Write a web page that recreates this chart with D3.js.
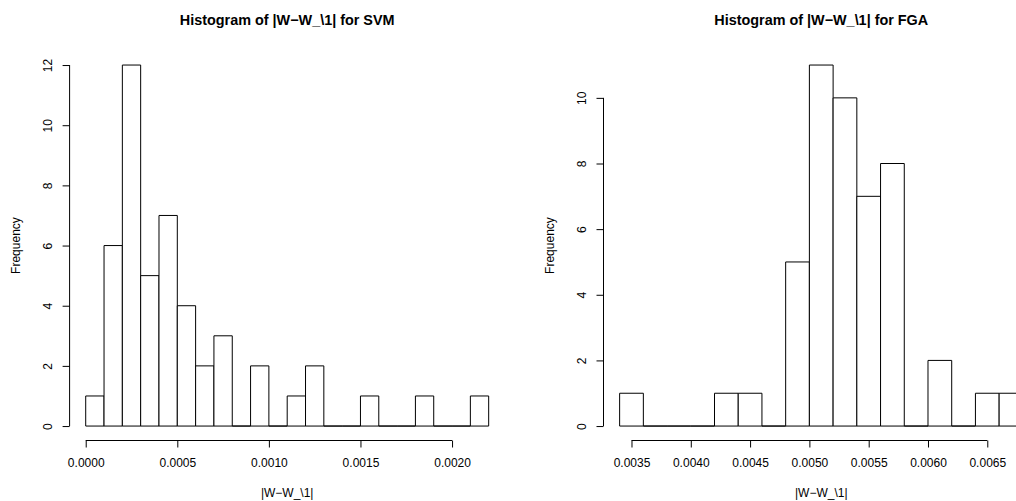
<!DOCTYPE html>
<html>
<head>
<meta charset="utf-8">
<script src="https://cdn.jsdelivr.net/npm/d3@7"></script>
<style>
  body { margin: 0; background: #fff; }
  svg { font-family: "Liberation Sans", Arial, Helvetica, sans-serif; }
</style>
</head>
<body>
<svg id="chart"></svg>
<script>
// SVM histogram: breaks every 0.0001 from 0 to 0.0022
const svmBreakStart = 0, svmBreakStep = 0.0001;
const svmCounts = [1, 6, 12, 5, 7, 4, 2, 3, 0, 2, 0, 1, 2, 0, 0, 1, 0, 0, 1, 0, 0, 1];
const svmXTicks = [0, 0.0005, 0.001, 0.0015, 0.002];
const svmYTicks = [0, 2, 4, 6, 8, 10, 12];

// FGA histogram: breaks every 0.0002 from 0.0034 to 0.0068
const fgaBreakStart = 0.0034, fgaBreakStep = 0.0002;
const fgaCounts = [1, 0, 0, 0, 1, 1, 0, 5, 11, 10, 7, 8, 0, 2, 0, 1, 1];
const fgaXTicks = [0.0035, 0.004, 0.0045, 0.005, 0.0055, 0.006, 0.0065];
const fgaYTicks = [0, 2, 4, 6, 8, 10];

const width = 1016, height = 501;
const svg = d3.select('#chart').attr('width', width).attr('height', height);

function histogram(opts) {
  const { counts, start, step, xTicks, yTicks, title, left, right, top, bottom } = opts;
  const bins = counts.map((c, i) => ({ x0: start + i * step, x1: start + (i + 1) * step, n: c }));
  const xmin = bins[0].x0, xmax = bins[bins.length - 1].x1;
  const ymax = d3.max(counts);
  // R-style 4% padding on both axes
  const xpad = (xmax - xmin) * 0.04, ypad = ymax * 0.04;

  const x = d3.scaleLinear().domain([xmin - xpad, xmax + xpad]).range([left, right]);
  const y = d3.scaleLinear().domain([-ypad, ymax + ypad]).range([bottom, top]);

  const g = svg.append('g');

  // paths instead of rects so empty bins still show as a line on the baseline
  g.selectAll('path.bar')
    .data(bins)
    .enter()
    .append('path')
    .attr('class', 'bar')
    .attr('d', d => `M${x(d.x0)},${y(0)}V${y(d.n)}H${x(d.x1)}V${y(0)}Z`)
    .attr('fill', '#fff')
    .attr('stroke', '#000')
    .attr('stroke-width', 1);

  // x axis (only spans the tick range, like R)
  const xAxis = d3.axisBottom(x).tickValues(xTicks).tickSize(7).tickPadding(11)
    .tickFormat(d3.format('.4f'));
  const gx = g.append('g').attr('transform', `translate(0,${bottom})`).call(xAxis);
  gx.select('.domain').attr('d', `M${x(xTicks[0])},0H${x(xTicks[xTicks.length - 1])}`);

  const yAxis = d3.axisLeft(y).tickValues(yTicks).tickSize(7).tickPadding(4)
    .tickFormat(d3.format('d'));
  const gy = g.append('g').attr('transform', `translate(${left},0)`).call(yAxis);
  gy.select('.domain').attr('d', `M0,${y(yTicks[0])}V${y(yTicks[yTicks.length - 1])}`);
  gy.selectAll('.tick text')
    .attr('transform', 'rotate(-90)')
    .attr('x', 0)
    .attr('y', -18)
    .attr('dy', 0)
    .attr('text-anchor', 'middle');

  [gx, gy].forEach(a => {
    a.selectAll('text').attr('font-size', 12).attr('fill', '#000');
    a.selectAll('line, path').attr('stroke', '#000');
    a.attr('font-family', null).attr('font-size', null);
  });

  const cx = (left + right) / 2;
  g.append('text')
    .attr('x', cx).attr('y', 25)
    .attr('text-anchor', 'middle')
    .attr('font-size', 14.4).attr('font-weight', 'bold')
    .text(title);

  g.append('text')
    .attr('x', cx).attr('y', 497)
    .attr('text-anchor', 'middle')
    .attr('font-size', 12)
    .text('|W\u2212W_\\1|');

  g.append('text')
    .attr('transform', `translate(${left - 49.5},${(top + bottom) / 2}) rotate(-90)`)
    .attr('text-anchor', 'middle')
    .attr('font-size', 12)
    .text('Frequency');
}

histogram({
  counts: svmCounts, start: svmBreakStart, step: svmBreakStep,
  xTicks: svmXTicks, yTicks: svmYTicks,
  title: 'Histogram of |W\u2212W_\\1| for SVM',
  left: 69.6, right: 504.8, top: 50.6, bottom: 440.5
});

histogram({
  counts: fgaCounts, start: fgaBreakStart, step: fgaBreakStep,
  xTicks: fgaXTicks, yTicks: fgaYTicks,
  title: 'Histogram of |W\u2212W_\\1| for FGA',
  left: 603.5, right: 1039, top: 50.6, bottom: 440.5
});
</script>
</body>
</html>
